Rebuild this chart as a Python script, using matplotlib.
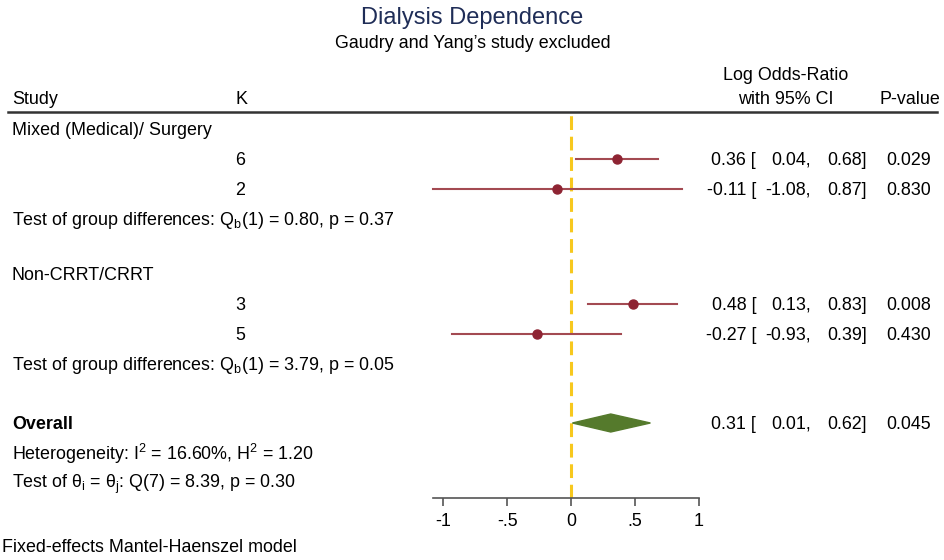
import matplotlib
matplotlib.use("Agg")
import matplotlib.pyplot as plt
from matplotlib.patches import Polygon
from matplotlib.transforms import blended_transform_factory

plt.rcParams['font.family'] = ['Liberation Sans', 'DejaVu Sans']
plt.rcParams['mathtext.fontset'] = 'custom'
plt.rcParams['mathtext.rm'] = 'Liberation Sans'
plt.rcParams['mathtext.it'] = 'Liberation Sans:italic'

# data
groups = ["Mixed (Medical)/ Surgery", "Non-CRRT/CRRT"]
group_rows = [0, 4.83]
k_values = [6, 2, 3, 5]
study_rows = [1, 2, 5.83, 6.83]
est = [0.36, -0.11, 0.48, -0.27]
lo = [0.04, -1.08, 0.13, -0.93]
hi = [0.68, 0.87, 0.83, 0.39]
pvals = ["0.029", "0.830", "0.008", "0.430"]
group_tests = [r"Test of group differences: Q$_\mathrm{b}$(1) = 0.80, p = 0.37",
               r"Test of group differences: Q$_\mathrm{b}$(1) = 3.79, p = 0.05"]
test_rows = [3, 7.83]
overall_row = 9.8
overall_est, overall_lo, overall_hi, overall_p = 0.31, 0.01, 0.62, "0.045"
xticks = [-1, -0.5, 0, 0.5, 1]
xticklabels = ["-1", "-.5", "0", ".5", "1"]

W, H = 945, 560
fig = plt.figure(figsize=(W / 100, H / 100), dpi=100)


def fx(px):
    return px / W


def fy(py):
    return 1 - py / H


fs = 12.9
dy = 0.04  # small downward nudge for row text

ax = fig.add_axes([fx(433), fy(498), fx(699) - fx(433), (498 - 112) / H])
ax.set_xlim(-1.08, 1.0)
ax.set_ylim(12.3, -0.567)
for s in ["top", "left", "right"]:
    ax.spines[s].set_visible(False)
ax.spines["bottom"].set_color("#555555")
ax.spines["bottom"].set_linewidth(1.2)
ax.set_yticks([])
ax.set_xticks(xticks)
ax.set_xticklabels(xticklabels, fontsize=fs)
ax.tick_params(axis="x", length=6, width=1.2, color="#555555", pad=5)
ax.patch.set_alpha(0)

# null line
ax.axvline(0, color="#f7c81e", lw=2.2, ls=(0, (4.5, 2.2)), zorder=1)

# studies
for y, e, l, h in zip(study_rows, est, lo, hi):
    ax.plot([l, h], [y, y], color="#a34a52", lw=1.5, zorder=2, clip_on=False)
    ax.plot(e, y, "o", color="#8e2433", ms=6.5, zorder=3, clip_on=False)

# overall diamond
ax.add_patch(Polygon([(overall_lo, overall_row), (overall_est, overall_row - 0.3),
                      (overall_hi, overall_row), (overall_est, overall_row + 0.3)],
                     closed=True, color="#557a2c", zorder=3))

tr = blended_transform_factory(fig.transFigure, ax.transData)

# title
fig.text(0.5, fy(18), "Dialysis Dependence", ha="center", va="center",
         fontsize=17, color="#1f2d57")
fig.text(0.5, fy(44), "Gaudry and Yang\u2019s study excluded", ha="center",
         va="center", fontsize=fs)

# headers
fig.text(fx(12), fy(100), "Study", va="center", fontsize=fs)
fig.text(fx(236), fy(100), "K", va="center", fontsize=fs)
fig.text(fx(786), fy(76), "Log Odds-Ratio", ha="center", va="center", fontsize=fs)
fig.text(fx(786), fy(100), "with 95% CI", ha="center", va="center", fontsize=fs)
fig.text(fx(910), fy(100), "P-value", ha="center", va="center", fontsize=fs)
fig.add_artist(plt.Line2D([fx(8), fx(937)], [fy(112), fy(112)],
                          color="#333333", lw=1.8))


def ci_text(y, e, l, h, p):
    y = y + dy
    fig.text(fx(756), y, f"{e:.2f} [", ha="right", va="center", fontsize=fs,
             transform=tr)
    fig.text(fx(811), y, f"{l:.2f},", ha="right", va="center", fontsize=fs,
             transform=tr)
    fig.text(fx(867), y, f"{h:.2f}]", ha="right", va="center", fontsize=fs,
             transform=tr)
    fig.text(fx(931), y, p, ha="right", va="center", fontsize=fs, transform=tr)


for g, y in zip(groups, group_rows):
    fig.text(fx(12), y + dy, g, va="center", fontsize=fs, transform=tr)
for k, y, e, l, h, p in zip(k_values, study_rows, est, lo, hi, pvals):
    fig.text(fx(240), y + dy, str(k), ha="center", va="center", fontsize=fs,
             transform=tr)
    ci_text(y, e, l, h, p)
for t, y in zip(group_tests, test_rows):
    fig.text(fx(12), y + dy, t, va="center", fontsize=fs, transform=tr)

fig.text(fx(12), overall_row + dy, "Overall", va="center", fontsize=fs,
         fontweight="bold", transform=tr)
ci_text(overall_row, overall_est, overall_lo, overall_hi, overall_p)
fig.text(fx(12), overall_row + 1 + dy,
         r"Heterogeneity: I$^\mathrm{2}$ = 16.60%, H$^\mathrm{2}$ = 1.20",
         va="center", fontsize=fs, transform=tr)
fig.text(fx(12), overall_row + 2 + dy,
         r"Test of θ$_\mathrm{i}$ = θ$_\mathrm{j}$: Q(7) = 8.39, p = 0.30",
         va="center", fontsize=fs, transform=tr)

fig.text(fx(2), fy(548), "Fixed-effects Mantel-Haenszel model", va="center",
         fontsize=fs)

fig.savefig("out.png", dpi=100, facecolor="white")
